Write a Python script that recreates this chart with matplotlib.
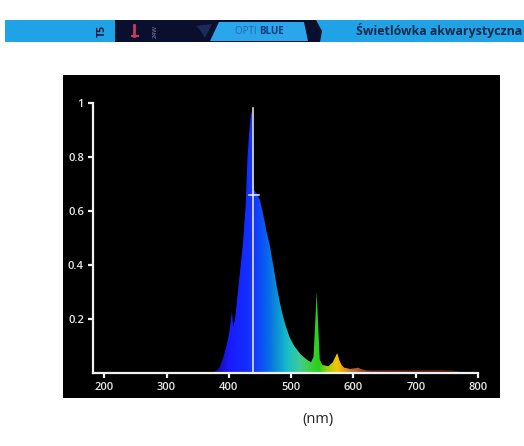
import numpy as np
import matplotlib
matplotlib.use("Agg")
import matplotlib.pyplot as plt
from matplotlib.colors import LinearSegmentedColormap, Normalize
from matplotlib.patches import Rectangle, Polygon

# ---- data ----
wavelength = [370, 378, 385, 390, 395, 400, 403, 405, 407, 410, 415, 420, 423, 427,
              430, 433, 436, 438, 440, 443, 446, 450, 455, 460, 466, 472, 477, 482,
              487, 492, 498, 505, 515, 525, 532, 536, 539, 541, 543, 546, 550, 560,
              567, 571, 574, 577, 581, 585, 595, 604, 608, 612, 620, 650, 700, 740,
              760, 780]
intensity = [0.0, 0.005, 0.02, 0.05, 0.09, 0.14, 0.19, 0.23, 0.17, 0.2, 0.31, 0.42,
             0.49, 0.62, 0.8, 0.9, 0.97, 0.95, 0.68, 0.67, 0.66, 0.64, 0.59, 0.53,
             0.47, 0.39, 0.32, 0.26, 0.21, 0.17, 0.13, 0.1, 0.07, 0.05, 0.04, 0.06,
             0.2, 0.30, 0.2, 0.05, 0.03, 0.025, 0.04, 0.06, 0.074, 0.05, 0.03, 0.02,
             0.015, 0.018, 0.02, 0.015, 0.01, 0.01, 0.01, 0.012, 0.01, 0.0]
marker_wavelength = 439
marker_top = 0.98
marker_level = 0.66
marker_span = [432, 448]

x_ticks = [200, 300, 400, 500, 600, 700, 800]
y_ticks = [0.2, 0.4, 0.6, 0.8, 1.0]
y_tick_labels = ["0.2", "0.4", "0.6", "0.8", "1"]
x_label = "(nm)"
banner_title = "Świetlówka akwarystyczna"

# colour stops along the spectrum
color_stops_wl = [182, 380, 400, 440, 458, 475, 495, 515, 530, 545, 560, 575, 600, 630, 800]
color_stops = ["#1a0060", "#1a0a9a", "#1a1aff", "#1236ff", "#0a5cf0", "#0a8ad8",
               "#18c0c8", "#40cc90", "#40d040", "#28d018", "#a8d010", "#f8c400",
               "#c06a38", "#6a2818", "#3a1208"]

XMIN, XMAX = 182, 800

fig = plt.figure(figsize=(5.24, 4.46), dpi=100)
fig.patch.set_facecolor("white")

# background / decoration layer in pixel coordinates
bg = fig.add_axes([0, 0, 1, 1], zorder=-1)
bg.set_xlim(0, 524)
bg.set_ylim(446, 0)
bg.axis("off")
bg.add_patch(Rectangle((63, 75), 437, 323, facecolor="black", edgecolor="none"))

# banner
bg.add_patch(Rectangle((5, 20), 519, 22, facecolor="#1fa3e6", edgecolor="none"))
bg.add_patch(Polygon([(115, 20), (316, 20), (322, 31), (320, 42), (115, 42)],
                     closed=True, facecolor="#0b0f2e", edgecolor="none"))
bg.add_patch(Polygon([(210, 41), (219, 22), (304, 22), (308, 41)],
                     closed=True, facecolor="#2aa6ea", edgecolor="none"))
bg.add_patch(Polygon([(196, 26), (212, 24), (205, 38), (200, 30)],
                     closed=True, facecolor="#1c2a5a", edgecolor="none"))
bg.plot([134, 134], [25, 36], color="#c83a64", lw=2)
bg.plot([132, 138], [36, 36], color="#c83a64", lw=1.5)
bg.text(102, 31, "T5", rotation=90, ha="center", va="center", fontsize=7.5,
        fontweight="bold", color="#101a3a", family="Open Sans")
bg.text(155, 31, "24W", rotation=90, ha="center", va="center", fontsize=4.5,
        color="#8890b0", family="Open Sans")
bg.text(259, 31.5, "OPTI ", ha="right", va="center", fontsize=7,
        color="#2b62b0", family="Open Sans")
bg.text(259, 31.5, "BLUE", ha="left", va="center", fontsize=7,
        fontweight="bold", color="#173a80", family="Open Sans")
bg.text(522, 31, banner_title, ha="right", va="center", fontsize=8.9,
        fontweight="bold", color="#13294b", family="Open Sans")

# x label below the panel
bg.text(318, 420, x_label, ha="center", va="center", fontsize=10.5,
        color="#222222", family="Open Sans")

# main chart axes
ax = fig.add_axes([93 / 524, 1 - 373 / 446, (478 - 93) / 524, (373 - 103) / 446])
ax.set_facecolor("black")
ax.set_xlim(XMIN, XMAX)
ax.set_ylim(0, 1)

cmap = LinearSegmentedColormap.from_list(
    "spec", [((w - XMIN) / (XMAX - XMIN), c) for w, c in zip(color_stops_wl, color_stops)])
grad = np.linspace(XMIN, XMAX, 800).reshape(1, -1)
im = ax.imshow(grad, extent=[XMIN, XMAX, 0, 1], aspect="auto", cmap=cmap,
               norm=Normalize(XMIN, XMAX), origin="lower", interpolation="bilinear",
               zorder=1)
poly = ax.fill_between(wavelength, intensity, 0, facecolor="none", edgecolor="none")
im.set_clip_path(poly.get_paths()[0], transform=ax.transData)

ax.plot([marker_wavelength, marker_wavelength], [0, marker_top],
        color="#f2f0d8", lw=1.1, zorder=3)
ax.plot(marker_span, [marker_level, marker_level], color="#f2f0d8", lw=1.1, zorder=3)

for s in ["top", "right"]:
    ax.spines[s].set_visible(False)
for s in ["left", "bottom"]:
    ax.spines[s].set_color("#f0f0f0")
    ax.spines[s].set_linewidth(1.6)
    ax.spines[s].set_zorder(4)

ax.set_xticks(x_ticks)
ax.set_xticklabels([str(v) for v in x_ticks])
ax.set_yticks(y_ticks)
ax.set_yticklabels(y_tick_labels)
ax.tick_params(axis="both", direction="out", length=3.5, width=1.6, color="#f0f0f0",
               labelcolor="#e8e8e8", labelsize=8, pad=3)
for lab in ax.get_xticklabels() + ax.get_yticklabels():
    lab.set_family("Open Sans")
    lab.set_fontweight("semibold")

fig.savefig("out.png", dpi=100)
